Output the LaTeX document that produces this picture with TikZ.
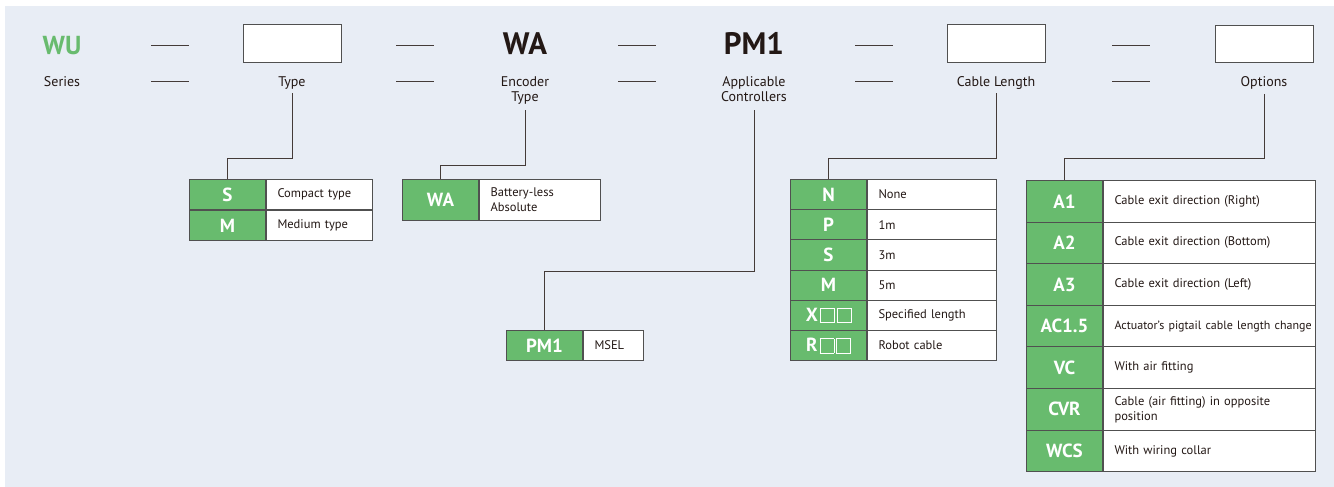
\documentclass[tikz,border=0pt]{standalone}
\usepackage{fontspec}
\setmainfont{PT Sans}
\usetikzlibrary{positioning}

\definecolor{wugreen}{RGB}{104,187,110}
\definecolor{panel}{RGB}{232,237,245}
\definecolor{ink}{RGB}{35,24,21}
\definecolor{rule}{RGB}{80,80,80}

% white empty square used in the cable length codes
\newcommand{\sqbox}{\kern2pt\raisebox{-1pt}{\fboxsep=0pt\fboxrule=.6pt\fbox{\rule{0pt}{13.5pt}\rule{13.5pt}{0pt}}}}

\tikzset{
  head/.style={anchor=base,inner sep=0pt,text=ink,font=\bfseries\fontsize{31}{31}\selectfont},
  lbl/.style={anchor=base,align=center,inner sep=4pt,text=ink,font=\fontsize{14}{15}\selectfont},
  slot/.style={draw=rule,fill=white,line width=1pt,minimum width=98pt,minimum height=37.5pt},
  code/.style={anchor=north west,draw=rule,fill=wugreen,line width=1pt,text=white,inner sep=0pt,
    minimum width=76pt,minimum height=#1,font=\bfseries\fontsize{19}{19}\selectfont},
  code/.default=30pt,
  desc/.style={anchor=west,draw=rule,fill=white,line width=1pt,text=ink,align=left,inner xsep=11pt,
    inner ysep=0pt,minimum height=#1,font=\fontsize{12.5}{15}\selectfont},
  desc/.default=30pt,
  wire/.style={draw=ink!85,line width=.9pt},
  dashline/.style={draw=ink!85,line width=.8pt}
}

\begin{document}
\begin{tikzpicture}[x=1pt,y=-1pt]
\useasboundingbox (0,0) rectangle (1334,487);
\fill[panel] (5,6) rectangle (1334,487);

% top row: fields of the model code
\node[head,text=wugreen,font=\bfseries\fontsize{26}{26}\selectfont] (wu) at (62,54.5) {WU};
\node[slot] (typebox) at (292,43.5) {};
\node[head] (wa) at (525,55) {WA};
\node[head] (pm) at (754,55) {PM1};
\node[slot] (cablebox) at (996,43.5) {};
\node[slot] (optbox) at (1264,44) {};

% (base of a two-line label is its last line)
\node[lbl] (serieslbl) at (62,86) {Series};
\node[lbl] (typelbl) at (292,86) {Type};
\node[lbl] (enclbl) at (525,101) {Encoder\\Type};
\node[lbl] (ctrllbl) at (754,101) {Applicable\\Controllers};
\node[lbl] (cablelbl) at (996,86) {Cable Length};
\node[lbl] (optlbl) at (1264,87) {Options};

\foreach \x in {170,415,637,874,1131}{
  \draw[dashline] (\x-19,45) -- (\x+19,45);
  \draw[dashline] (\x-19,81) -- (\x+19,81);
}

% type
\node[code] (tS) at (189,179) {S};
\node[desc,text width=84pt,right=0pt of tS] (tSd) {Compact type};
\node[code,below=0pt of tS] (tM) {M};
\node[desc,text width=84pt,right=0pt of tM] (tMd) {Medium type};

% encoder
\node[code=41pt] (eWA) at (402,179) {WA};
\node[desc=41pt,text width=99pt,right=0pt of eWA] (eWAd) {Battery-less\\Absolute};

% controller
\node[code] (cPM) at (506,330) {PM1};
\node[desc,text width=38pt,right=0pt of cPM] (cPMd) {MSEL};

% cable length
\foreach \k/\v [count=\i] in {N/None,P/1m,S/3m,M/5m,X\sqbox\sqbox/Specified length,R\sqbox\sqbox/Robot cable}{
  \node[code=30.2pt] (cl\i) at (790,{179+(\i-1)*30.2}) {\k};
  \node[desc=30.2pt,text width=107pt,right=0pt of cl\i] (cld\i) {\v};
}

% options
\foreach \k/\v [count=\i] in {A1/{Cable exit direction (Right)},A2/{Cable exit direction (Bottom)},
    A3/{Cable exit direction (Left)},AC1.5/{\mbox{\fontsize{12}{15}\selectfont Actuator’s pigtail cable length change}},
    VC/{With air fitting},CVR/{Cable (air fitting) in opposite\\position},WCS/{With wiring collar}}{
  \node[code=41.6pt] (op\i) at (1026,{180+(\i-1)*41.6}) {\k};
  \node[desc=41.6pt,text width=190pt,right=0pt of op\i] (opd\i) {\v};
}

% leaders from the labels down to the tables
\draw[wire] (typelbl.south) -- (typelbl.south |- 0,158) -| (tS.north);
\draw[wire] ([yshift=-2pt]enclbl.south) -- (enclbl.south |- 0,165) -| (eWA.north);
\draw[wire] ([yshift=-5pt]ctrllbl.south) -- (ctrllbl.south |- 0,271) -| (cPM.north);
\draw[wire] (cablelbl.south) -- (cablelbl.south |- 0,158) -| (cl1.north);
\draw[wire] (optlbl.south) -- (optlbl.south |- 0,158) -| (op1.north);

\end{tikzpicture}
\end{document}
